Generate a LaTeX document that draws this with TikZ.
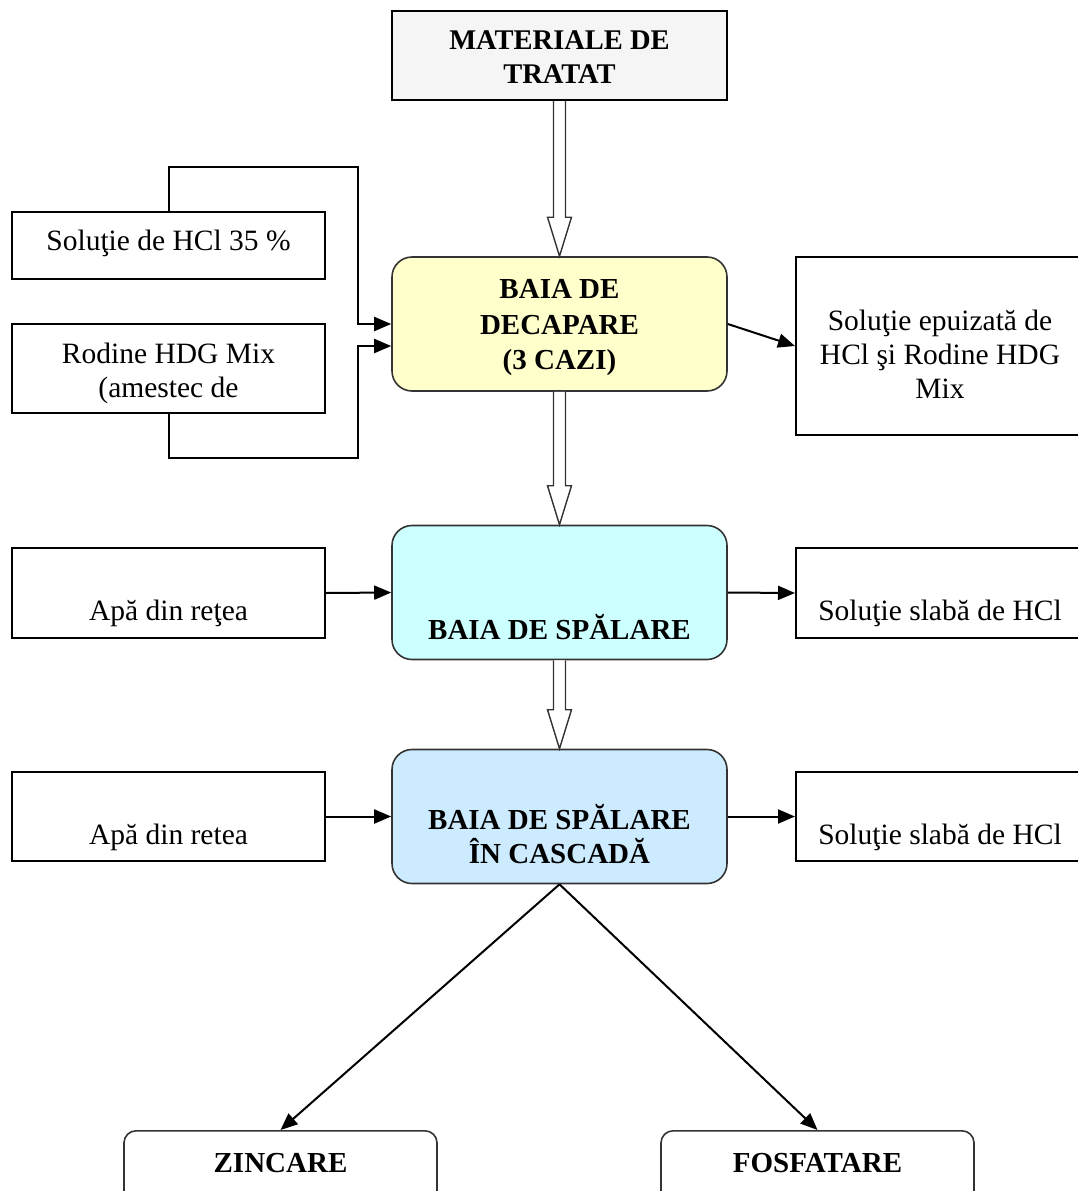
\documentclass[tikz,border=0pt]{standalone}
\usepackage{fontspec}
\setmainfont{Liberation Serif}
\usetikzlibrary{arrows.meta,calc}
\definecolor{matfill}{HTML}{F5F5F5}
\definecolor{decfill}{HTML}{FFFFCC}
\definecolor{spalfill}{HTML}{CCFFFF}
\definecolor{cascfill}{HTML}{CCEBFF}
\tikzset{
  box/.style={draw, line width=2pt, minimum width=313pt, inner sep=0pt},
  proc/.style={draw=black!80, line width=1.6pt, rounded corners=20pt, minimum width=335pt, minimum height=134pt, inner sep=0pt},
  endbox/.style={draw=black!80, line width=1.6pt, rounded corners=12pt, minimum width=313pt, minimum height=90pt, inner sep=0pt, fill=white},
  reg/.style={font=\fontsize{29.5pt}{34pt}\selectfont, align=center, inner sep=0pt},
  bld/.style={font=\fontsize{29pt}{34pt}\selectfont\bfseries, align=center, inner sep=0pt},
  arr/.style={line width=2pt, -{Triangle[length=17pt,width=14pt]}},
  hol/.style={line width=1.4pt, draw=black!80, fill=white},
}
\newcommand\hollowarr[2]{%
  \draw[hol] ($(#1)+(-6,0)$) -- ($(#2)+(-6,-39)$) -- ($(#2)+(-12,-39)$) -- (#2)
    -- ($(#2)+(12,-39)$) -- ($(#2)+(6,-39)$) -- ($(#1)+(6,0)$);}
\begin{document}
\begin{tikzpicture}[x=1pt,y=-1pt]
\clip (0,0) rectangle (1078,1191);
\fill[white] (0,0) rectangle (1078,1191);

% main column
\node[box, fill=matfill, minimum width=335pt, minimum height=89pt] (mat) at (559.5,55.5) {};
\node[bld, font=\fontsize{28.5pt}{34pt}\selectfont\bfseries] (matt) at (559.5,57) {MATERIALE DE\\TRATAT};
\node[proc, fill=decfill] (dec) at (559.5,324) {};
\node[bld, font=\fontsize{29pt}{35.5pt}\selectfont\bfseries] (dect) at (559.5,328) {BAIA DE\\DECAPARE\\(3 CAZI)};
\node[proc, fill=spalfill] (spal) at (559.5,592.5) {};
\node[bld, anchor=base] (spalt) at (559.5,639) {BAIA DE SPĂLARE};
\node[proc, fill=cascfill] (casc) at (559.5,816.5) {};
\node[bld, anchor=base] (casct1) at (559.5,829) {BAIA DE SPĂLARE};
\node[bld, anchor=base] (casct2) at (559.5,863) {ÎN CASCADĂ};

% left inputs
\node[box, minimum height=67pt] (hcl) at (168.5,245.5) {};
\node[reg, anchor=base] (hclt) at (168.5,250) {Soluţie de HCl 35 \%};
\node[box, minimum height=89pt] (rod) at (168.5,368.5) {};
\node[reg, anchor=base] (rodt1) at (168.5,363) {Rodine HDG Mix};
\node[reg, anchor=base] (rodt2) at (168.5,397) {(amestec de};
\node[box, minimum height=90pt] (apa1) at (168.5,593) {};
\node[reg, anchor=base] (apa1t) at (168.5,620) {Apă din reţea};
\node[box, minimum height=89pt] (apa2) at (168.5,816.5) {};
\node[reg, anchor=base] (apa2t) at (168.5,844) {Apă din retea};

% right outputs
\node[box, minimum width=300pt, minimum height=178pt, anchor=west] (epu) at (795,346) {};
\node[reg, anchor=base] (eput1) at (940,330) {Soluţie epuizată de};
\node[reg, anchor=base] (eput2) at (940,364) {HCl şi Rodine HDG};
\node[reg, anchor=base] (eput3) at (940,398) {Mix};
\node[box, minimum width=300pt, minimum height=90pt, anchor=west] (sol1) at (795,593) {};
\node[reg, anchor=base] (sol1t) at (940,620) {Soluţie slabă de HCl};
\node[box, minimum width=300pt, minimum height=89pt, anchor=west] (sol2) at (795,816.5) {};
\node[reg, anchor=base] (sol2t) at (940,844) {Soluţie slabă de HCl};

% final
\node[endbox, anchor=north] (zinc) at (280.5,1130) {};
\node[bld, anchor=base] (zinct) at (280.5,1172) {ZINCARE};
\node[endbox, anchor=north] (fos) at (817.5,1130) {};
\node[bld, anchor=base] (fost) at (817.5,1172) {FOSFATARE};

% connectors
\coordinate (j1) at (358,167);
\coordinate (j2) at (358,458);
\draw[arr] (hcl.north) |- (j1) |- (dec.west);
\draw[arr] (rod.south) |- (j2) |- ($(dec.west)+(0,22)$);
\draw[arr] (dec.east) -- (epu.west);
\draw[arr] (apa1.east) -- (spal.west);
\draw[arr] (spal.east) -- (sol1.west);
\draw[arr] (apa2.east) -- (casc.west);
\draw[arr] (casc.east) -- (sol2.west);
\draw[arr] (casc.south) -- (zinc.north);
\draw[arr] (casc.south) -- (fos.north);

\hollowarr{mat.south}{dec.north}
\hollowarr{dec.south}{spal.north}
\hollowarr{spal.south}{casc.north}
\end{tikzpicture}
\end{document}
